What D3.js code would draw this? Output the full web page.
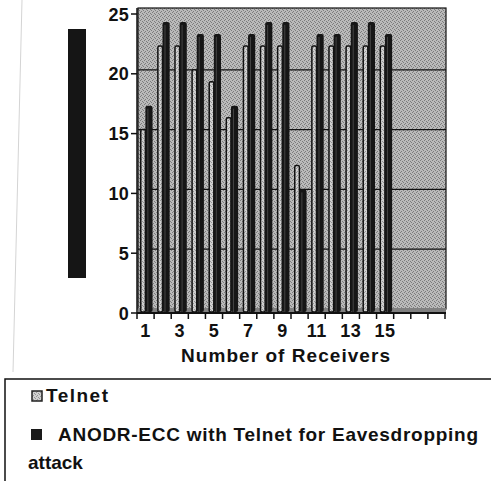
<!DOCTYPE html>
<html>
<head>
<meta charset="utf-8">
<script src="https://cdn.jsdelivr.net/npm/d3@7"></script>
<style>
  body { margin: 0; background: #fff; }
  text { font-family: "Liberation Sans", Arial, sans-serif; font-weight: bold; fill: #111; }
</style>
</head>
<body>
<div id="chart"></div>
<script>
// data
var categories = ["1","2","3","4","5","6","7","8","9","10","11","12","13","14","15"];
var telnet = [15, 22, 22, 20, 19, 16, 22, 22, 22, 12, 22, 22, 22, 22, 22];
var anodr  = [17, 24, 24, 23, 23, 17, 23, 24, 24, 10, 23, 23, 24, 24, 23];
var tickLabels = ["1","3","5","7","9","11","13","15"];
var yTicks = [0, 5, 10, 15, 20, 25];
var slotCount = 18;
var seriesNames = ["Telnet", "ANODR-ECC with Telnet for Eavesdropping", "attack"];

var svg_Width = 491, svg_Height = 481;
var plot = { left: 137, right: 445, top: 8, bottom: 313 };
var depth = 4;

var svg = d3.select('#chart').append('svg')
  .attr('width', svg_Width)
  .attr('height', svg_Height);

var defs = svg.append('defs');
function stipple(id, base, dot) {
  var p = defs.append('pattern').attr('id', id)
    .attr('width', 4).attr('height', 4)
    .attr('patternUnits', 'userSpaceOnUse');
  p.append('rect').attr('width', 4).attr('height', 4).attr('fill', base);
  [[0,0],[2,1],[1,3],[3,2]].forEach(function(d) {
    p.append('rect').attr('x', d[0]).attr('y', d[1]).attr('width', 1).attr('height', 1).attr('fill', dot);
  });
}
stipple('wall', '#bababa', '#7c7c7c');
stipple('light', '#d0d0d0', '#959595');

// faint scan edge on the left
svg.append('line')
  .attr('x1', 22).attr('y1', 0).attr('x2', 13).attr('y2', 372)
  .attr('stroke', '#d4d4d4').attr('stroke-width', 1);

var x = d3.scaleBand().domain(d3.range(slotCount)).range([plot.left, plot.right]);
var bw = x.bandwidth();
var y = d3.scaleLinear().domain([0, 25]).range([plot.bottom, 14]);

// back wall
svg.append('rect')
  .attr('x', plot.left + 1).attr('y', plot.top)
  .attr('width', plot.right - plot.left).attr('height', plot.bottom - plot.top - depth)
  .attr('fill', 'url(#wall)')
  .attr('stroke', '#111').attr('stroke-width', 1.2);
// floor
svg.append('rect')
  .attr('x', plot.left + 1).attr('y', plot.bottom - depth - 1)
  .attr('width', plot.right - plot.left).attr('height', depth + 1)
  .attr('fill', '#808080');

// gridlines on the back wall
svg.append('g').selectAll('line')
  .data(yTicks.filter(function(d) { return d > 0 && d < 25; }))
  .enter().append('line')
  .attr('x1', plot.left + 1).attr('x2', plot.right + 1)
  .attr('y1', function(d) { return y(d) - depth; })
  .attr('y2', function(d) { return y(d) - depth; })
  .attr('stroke', '#111').attr('stroke-width', 1.3);

// bars
var bars = svg.append('g');
bars.selectAll('.telnet')
  .data(telnet).enter().append('rect')
  .attr('class', 'telnet')
  .attr('x', function(d, i) { return x(i) + bw * 0.22; })
  .attr('y', function(d) { return y(d) - depth; })
  .attr('width', bw * 0.27)
  .attr('height', function(d) { return plot.bottom - y(d) + depth - 1; })
  .attr('rx', 1.5)
  .attr('fill', 'url(#light)')
  .attr('stroke', '#111').attr('stroke-width', 1.5);

bars.selectAll('.anodr')
  .data(anodr).enter().append('rect')
  .attr('class', 'anodr')
  .attr('x', function(d, i) { return x(i) + bw * 0.49; })
  .attr('y', function(d) { return y(d) - depth; })
  .attr('width', bw * 0.42)
  .attr('height', function(d) { return plot.bottom - y(d) + depth - 1; })
  .attr('rx', 2)
  .attr('fill', '#161616');

bars.selectAll('.anodrHi')
  .data(anodr).enter().append('line')
  .attr('x1', function(d, i) { return x(i) + bw * 0.49 + 2.5; })
  .attr('x2', function(d, i) { return x(i) + bw * 0.49 + 2.5; })
  .attr('y1', function(d) { return y(d) - depth + 3; })
  .attr('y2', plot.bottom - 1)
  .attr('stroke', '#444').attr('stroke-width', 1);

// x axis
var xAxis = svg.append('g');
xAxis.append('line')
  .attr('x1', plot.left).attr('x2', plot.right + 1)
  .attr('y1', plot.bottom).attr('y2', plot.bottom)
  .attr('stroke', '#111').attr('stroke-width', 2);
xAxis.selectAll('.tick')
  .data(d3.range(slotCount + 1)).enter().append('line')
  .attr('x1', function(i) { return i < slotCount ? x(i) : plot.right; })
  .attr('x2', function(i) { return i < slotCount ? x(i) : plot.right; })
  .attr('y1', plot.bottom).attr('y2', plot.bottom + 6)
  .attr('stroke', '#111').attr('stroke-width', 1.5);
xAxis.selectAll('.lbl')
  .data(tickLabels).enter().append('text')
  .attr('x', function(d) { return x(categories.indexOf(d)) + bw / 2; })
  .attr('y', 337)
  .attr('text-anchor', 'middle')
  .attr('font-size', '18px')
  .attr('letter-spacing', '0.5px')
  .text(function(d) { return d; });

// y axis
var yAxis = svg.append('g');
yAxis.append('line')
  .attr('x1', plot.left).attr('x2', plot.left)
  .attr('y1', plot.top).attr('y2', plot.bottom)
  .attr('stroke', '#111').attr('stroke-width', 1.5);
yAxis.selectAll('.tick')
  .data(yTicks).enter().append('line')
  .attr('x1', plot.left - 6).attr('x2', plot.left)
  .attr('y1', function(d) { return y(d); })
  .attr('y2', function(d) { return y(d); })
  .attr('stroke', '#111').attr('stroke-width', 1.5);
yAxis.selectAll('.lbl')
  .data(yTicks).enter().append('text')
  .attr('x', plot.left - 8)
  .attr('y', function(d) { return y(d) + 6.5; })
  .attr('text-anchor', 'end')
  .attr('font-size', '18px')
  .attr('letter-spacing', '0.3px')
  .text(function(d) { return d; });

// y axis title, blacked out in the scan
svg.append('rect')
  .attr('x', 68).attr('y', 29).attr('width', 18).attr('height', 249)
  .attr('fill', '#151515');

// x axis title
svg.append('text')
  .attr('x', 181).attr('y', 362)
  .attr('font-size', '19px')
  .attr('textLength', 209).attr('lengthAdjust', 'spacing')
  .text('Number of Receivers');

// legend
var legend = svg.append('g');
legend.append('rect')
  .attr('x', 5).attr('y', 379).attr('width', 500).attr('height', 120)
  .attr('fill', 'none').attr('stroke', '#111').attr('stroke-width', 1.5);
legend.append('rect')
  .attr('x', 32).attr('y', 391).attr('width', 10).attr('height', 10)
  .attr('fill', 'url(#light)').attr('stroke', '#222').attr('stroke-width', 1.5);
legend.append('rect')
  .attr('x', 31).attr('y', 429).attr('width', 11).attr('height', 11)
  .attr('fill', '#1a1a1a');
legend.append('text')
  .attr('x', 46).attr('y', 402)
  .attr('font-size', '19px')
  .attr('textLength', 62).attr('lengthAdjust', 'spacing')
  .text(seriesNames[0]);
legend.append('text')
  .attr('x', 58).attr('y', 441)
  .attr('font-size', '19px')
  .attr('textLength', 420).attr('lengthAdjust', 'spacing')
  .text(seriesNames[1]);
legend.append('text')
  .attr('x', 28).attr('y', 469)
  .attr('font-size', '19px')
  .text(seriesNames[2]);
</script>
</body>
</html>
